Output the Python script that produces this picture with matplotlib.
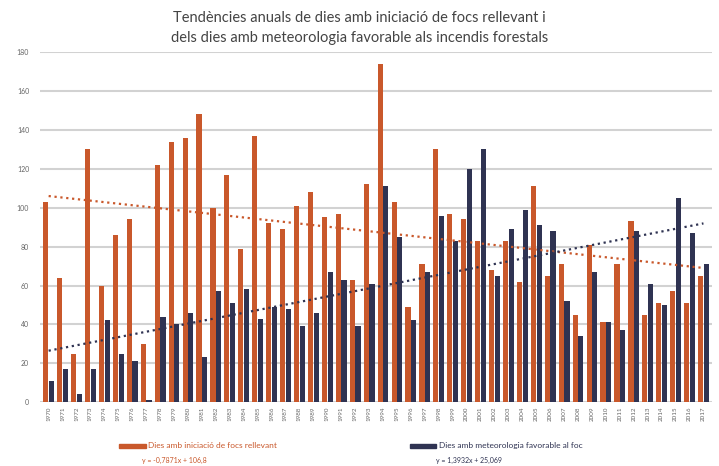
import matplotlib
matplotlib.use("Agg")
import matplotlib.pyplot as plt
import numpy as np

plt.rcParams['font.family'] = ['Lato', 'DejaVu Sans']

# dades llegides del gràfic
anys = list(range(1970, 2018))
focs = [103, 64, 25, 130, 60, 86, 94, 30, 122, 134, 136, 148, 100, 117, 79, 137,
        92, 89, 101, 108, 95, 97, 63, 112, 174, 103, 49, 71, 130, 97, 94, 83,
        68, 83, 62, 111, 65, 71, 45, 81, 41, 71, 93, 45, 51, 57, 51, 65]
meteo = [11, 17, 4, 17, 42, 25, 21, 1, 44, 40, 46, 23, 57, 51, 58, 43,
         49, 48, 39, 46, 67, 63, 39, 61, 111, 85, 42, 67, 96, 83, 120, 130,
         65, 89, 99, 91, 88, 52, 34, 67, 41, 37, 88, 61, 50, 105, 87, 71]
# coeficients de les línies de tendència (del gràfic)
tend_focs = (-0.7871, 106.8)
tend_meteo = (1.3932, 25.069)

c_focs = '#c9582b'
c_meteo = '#2f3352'

fig = plt.figure(figsize=(7.19, 4.66), dpi=100)
ax = fig.add_axes([0.056, 0.137, 0.934, 0.751])

x = np.arange(len(anys))
w = 0.37
ax.bar(x - w/2 - 0.02, focs, w, color=c_focs, zorder=2)
ax.bar(x + w/2 + 0.02, meteo, w, color=c_meteo, zorder=2)

n = np.arange(1, len(anys) + 1)
ax.plot(x, tend_focs[0]*n + tend_focs[1], ls=':', color=c_focs, lw=1.6, zorder=3)
ax.plot(x, tend_meteo[0]*n + tend_meteo[1], ls=':', color=c_meteo, lw=1.6, zorder=3)

ax.set_ylim(0, 180)
ax.set_yticks(range(0, 181, 20))
ax.set_xlim(-0.6, len(anys) - 0.4)
ax.set_xticks(x)
ax.set_xticklabels([str(a) for a in anys], rotation=90, fontsize=4.5, color='#666666')
ax.tick_params(axis='y', labelsize=5, colors='#666666', length=0, pad=8)
ax.tick_params(axis='x', length=0, pad=3)
ax.grid(axis='y', color='#d2d2d2', lw=1.5, zorder=0)
for s in ax.spines.values():
    s.set_visible(False)

fig.text(0.5, 0.962, "Tendències anuals de dies amb iniciació de focs rellevant i",
         ha='center', va='center', fontsize=10.5, color='#444444')
fig.text(0.5, 0.918, "dels dies amb meteorologia favorable als incendis forestals",
         ha='center', va='center', fontsize=10.5, color='#444444')

# llegenda
fig.patches.append(plt.Rectangle((0.166, 0.038), 0.037, 0.009, color=c_focs,
                                 transform=fig.transFigure))
fig.text(0.206, 0.043, "Dies amb iniciació de focs rellevant", fontsize=6,
         color=c_focs, va='center')
fig.text(0.198, 0.011, "y = -0,7871x + 106,8", fontsize=5, color=c_focs, va='center')
fig.patches.append(plt.Rectangle((0.570, 0.038), 0.037, 0.009, color=c_meteo,
                                 transform=fig.transFigure))
fig.text(0.610, 0.043, "Dies amb meteorologia favorable al foc", fontsize=6,
         color=c_meteo, va='center')
fig.text(0.606, 0.011, "y = 1,3932x + 25,069", fontsize=5, color=c_meteo, va='center')

fig.savefig('out.png', dpi=100)
